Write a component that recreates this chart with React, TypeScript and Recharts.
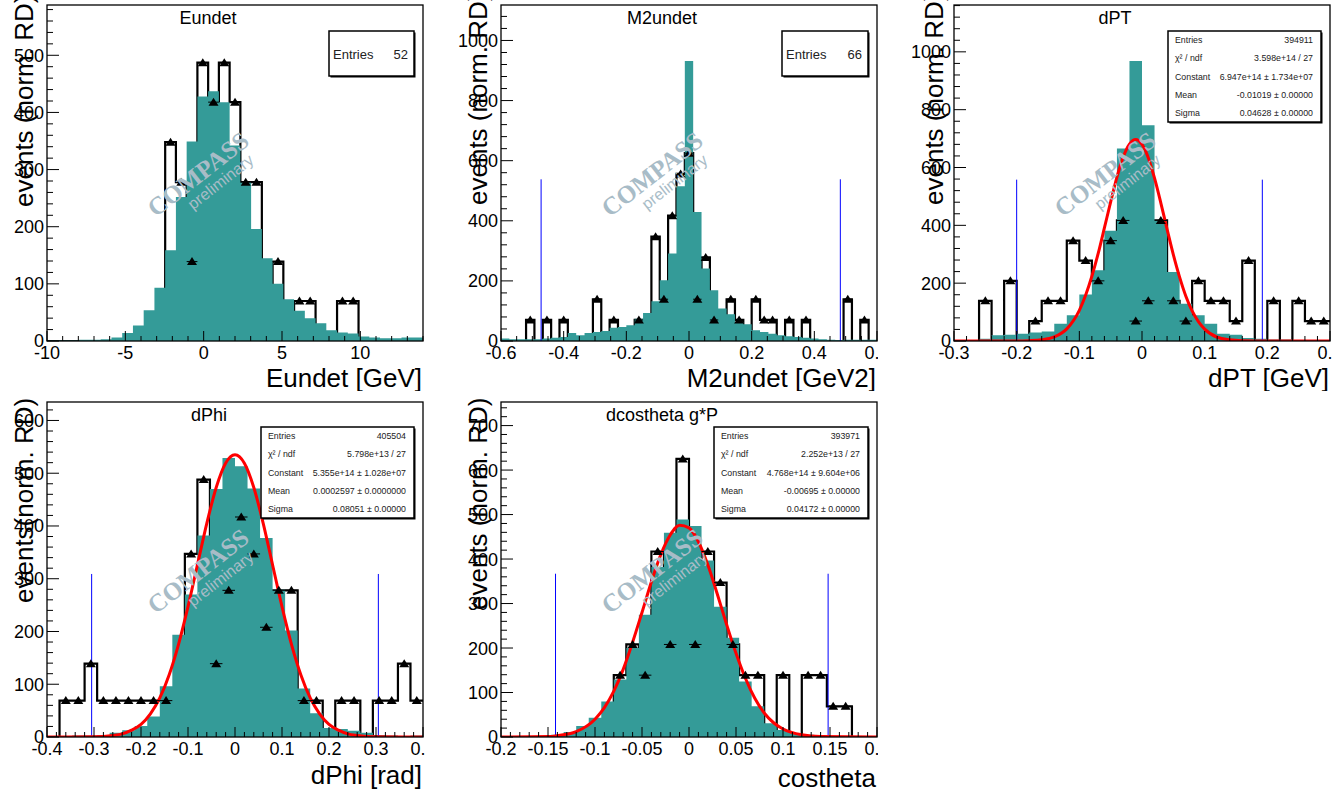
import React from 'react';
import { ComposedChart, Area, Line, Scatter, XAxis, YAxis, ReferenceLine } from 'recharts';

const TEAL = '#349b98';
const SANS = '"Liberation Sans", Arial, Helvetica, sans-serif';
const SERIF = '"Liberation Serif", "Times New Roman", serif';

// Eundet: 35 bins from -10 to 14 GeV
const eundetMc = [1, 1, 1, 2, 2, 3, 6, 14, 27, 54, 93, 159, 252, 349, 428, 437, 418, 342, 278, 196, 145, 100, 73, 53, 40, 31, 19, 15, 13, 8, 6, 5, 5, 6, 6];
const eundetRd = [0, 0, 0, 0, 0, 0, 0, 0, 0, 0, 0, 348, 278, 139, 487, 418, 487, 418, 278, 278, 0, 139, 0, 70, 70, 0, 0, 70, 70, 0, 0, 0, 0, 0, 0];

// M2undet: 45 bins from -0.6 to 0.6 GeV2
const m2Mc = [8, 6, 6, 6, 6, 8, 11, 13, 27, 19, 27, 30, 33, 44, 47, 52, 74, 93, 132, 202, 291, 515, 932, 429, 241, 169, 108, 89, 63, 56, 36, 30, 24, 19, 16, 13, 11, 8, 6, 4, 3, 4, 4, 4, 4];
const m2Rd = [0, 0, 0, 70, 0, 70, 0, 70, 0, 0, 0, 139, 0, 70, 0, 0, 70, 0, 347, 139, 417, 556, 625, 139, 278, 70, 0, 139, 70, 0, 139, 70, 70, 0, 70, 0, 70, 0, 0, 0, 0, 139, 0, 70, 0];
const m2Cuts = [-0.472, 0.483];

// dPT: 30 bins from -0.3 to 0.3 GeV
const dptMc = [2, 2, 8, 20, 22, 25, 29, 33, 60, 89, 161, 245, 381, 666, 968, 746, 418, 239, 129, 89, 60, 25, 22, 10, 8, 5, 5, 3, 3, 2];
const dptRd = [0, 0, 139, 0, 208, 0, 69, 139, 139, 347, 278, 208, 347, 417, 69, 139, 417, 139, 69, 208, 139, 139, 69, 278, 0, 139, 0, 139, 69, 69];
const dptFitX = [-0.3, -0.2, -0.18, -0.16, -0.14, -0.12, -0.1, -0.09, -0.08, -0.07, -0.06, -0.05, -0.04, -0.03, -0.02, -0.01, 0, 0.01, 0.02, 0.03, 0.04, 0.05, 0.06, 0.07, 0.08, 0.09, 0.1, 0.12, 0.14, 0.16, 0.2, 0.3];
const dptFitY = [0, 0, 1, 4, 14, 42, 106, 158, 224, 302, 391, 481, 567, 636, 681, 697, 680, 634, 563, 478, 387, 299, 221, 155, 104, 67, 41, 13, 4, 1, 0, 0];
const dptCuts = [-0.2, 0.192];

// dPhi: 30 bins from -0.4 to 0.4 rad
const dphiMc = [1, 1, 3, 3, 4, 8, 13, 21, 39, 96, 194, 270, 382, 470, 529, 513, 471, 377, 279, 202, 92, 45, 17, 15, 12, 8, 4, 3, 2, 3];
const dphiRd = [0, 69, 69, 139, 69, 69, 69, 69, 69, 69, 0, 347, 488, 139, 278, 417, 347, 208, 278, 278, 69, 69, 0, 69, 69, 0, 69, 69, 139, 69];
const dphiFitX = [-0.4, -0.3, -0.26, -0.24, -0.22, -0.2, -0.18, -0.16, -0.14, -0.12, -0.1, -0.08, -0.06, -0.04, -0.02, 0, 0.02, 0.04, 0.06, 0.08, 0.1, 0.12, 0.14, 0.16, 0.18, 0.2, 0.22, 0.24, 0.26, 0.3, 0.4];
const dphiFitY = [0, 0.5, 3, 6, 13, 24, 44, 74, 118, 176, 247, 326, 405, 473, 519, 535, 519, 473, 405, 326, 247, 176, 118, 74, 44, 24, 13, 6, 3, 0.5, 0];
const dphiCuts = [-0.305, 0.305];

// dcostheta: 30 bins from -0.2 to 0.2
const dcosMc = [1, 1, 2, 2, 5, 11, 25, 43, 80, 129, 200, 275, 382, 459, 489, 474, 397, 293, 223, 125, 69, 31, 16, 9, 5, 4, 2, 1, 1, 1];
const dcosRd = [0, 0, 0, 0, 0, 0, 0, 0, 0, 139, 208, 139, 417, 208, 625, 208, 417, 347, 208, 139, 139, 0, 139, 0, 139, 139, 69, 69, 0, 0];
const dcosFitX = [-0.2, -0.15, -0.14, -0.12, -0.1, -0.09, -0.08, -0.07, -0.06, -0.05, -0.04, -0.03, -0.02, -0.01, 0, 0.01, 0.02, 0.03, 0.04, 0.05, 0.06, 0.07, 0.08, 0.09, 0.1, 0.12, 0.14, 0.2];
const dcosFitY = [0, 1, 3, 12, 40, 66, 103, 152, 213, 280, 349, 410, 454, 476, 470, 439, 387, 322, 253, 188, 132, 87, 54, 32, 18, 5, 1, 0];
const dcosCuts = [-0.142, 0.148];

const dptStats: [string, string][] = [
  ['Entries', '394911'],
  ['χ² / ndf', '3.598e+14 / 27'],
  ['Constant', '6.947e+14 ± 1.734e+07'],
  ['Mean', '-0.01019 ± 0.00000'],
  ['Sigma', '0.04628 ± 0.00000'],
];
const dphiStats: [string, string][] = [
  ['Entries', '405504'],
  ['χ² / ndf', '5.798e+13 / 27'],
  ['Constant', '5.355e+14 ± 1.028e+07'],
  ['Mean', '0.0002597 ± 0.0000000'],
  ['Sigma', '0.08051 ± 0.00000'],
];
const dcosStats: [string, string][] = [
  ['Entries', '393971'],
  ['χ² / ndf', '2.252e+13 / 27'],
  ['Constant', '4.768e+14 ± 9.604e+06'],
  ['Mean', '-0.00695 ± 0.00000'],
  ['Sigma', '0.04172 ± 0.00000'],
];

interface Box { x: number; y: number; w: number; h: number }
interface StatBox extends Box { lx: number; rx: number; rows: number[]; font: number }

interface PanelProps {
  pad: Box;
  frame: { l: number; r: number; t: number; b: number };
  xMin: number; xMax: number; yMax: number;
  xMajor: number; xMinor: number; yMajor: number; yMinor: number;
  mc: number[]; rd: number[];
  fitX?: number[]; fitY?: number[];
  cuts?: number[]; cutTop?: number;
  title: string; titleX: number;
  xTitle: string; xTitleDy: number;
  yTitle: string; yTitleX: number; yTitleY: number;
  stats: [string, string][];
  box: StatBox;
}

const makeTicks = (min: number, max: number, step: number) => {
  const out: number[] = [];
  const a = Math.ceil(min / step - 1e-6);
  const b = Math.floor(max / step + 1e-6);
  for (let i = a; i <= b; i++) out.push(parseFloat((i * step).toFixed(6)));
  return out;
};

const isMajor = (v: number, major: number) => Math.abs(v / major - Math.round(v / major)) < 1e-6;
const fmt = (v: number) => parseFloat(v.toFixed(4)).toString();

// ROOT style: ticks point into the frame
const xTick = (major: number) => (p: any) => {
  const { x, y, payload } = p;
  const m = isMajor(payload.value, major);
  return (
    <g>
      <line x1={x} x2={x} y1={y} y2={y - (m ? 10 : 5)} stroke="#000" strokeWidth={1} />
      {m && (
        <text x={x} y={y + 18} textAnchor="middle" fontSize={18} fontFamily={SANS} fill="#000">
          {fmt(payload.value)}
        </text>
      )}
    </g>
  );
};

const yTick = (major: number) => (p: any) => {
  const { x, y, payload } = p;
  const m = isMajor(payload.value, major);
  return (
    <g>
      <line x1={x} x2={x + (m ? 12 : 6)} y1={y} y2={y} stroke="#000" strokeWidth={1} />
      {m && (
        <text x={x - 3} y={y} dy="0.36em" textAnchor="end" fontSize={18} fontFamily={SANS} fill="#000">
          {fmt(payload.value)}
        </text>
      )}
    </g>
  );
};

const triangle = (half: number) => (p: any) => {
  const { cx, cy } = p;
  return (
    <g>
      <line x1={cx - half} x2={cx + half} y1={cy} y2={cy} stroke="#000" strokeWidth={1} />
      <path d={`M${cx},${cy - 4.5} L${cx + 5},${cy + 3.5} L${cx - 5},${cy + 3.5} Z`} fill="#000" />
    </g>
  );
};

function Panel(props: PanelProps) {
  const { pad, frame: f, xMin, xMax, yMax, mc, rd } = props;
  const n = mc.length;
  const w = (xMax - xMin) / n;
  const hist = mc.map((v, i) => ({ x: xMin + i * w, mc: v, rd: rd[i] }));
  hist.push({ x: xMax, mc: mc[n - 1], rd: rd[n - 1] });
  const points = rd
    .map((v, i) => ({ x: xMin + (i + 0.5) * w, y: v }))
    .filter((d) => d.y > 0);
  const fit = props.fitX ? props.fitX.map((x, i) => ({ x, y: props.fitY![i] })) : null;
  const halfPx = ((f.r - f.l) / n) / 2;
  const b = props.box;

  return (
    <div style={{ position: 'absolute', left: pad.x, top: pad.y, width: pad.w, height: pad.h, overflow: 'hidden' }}>
      <ComposedChart
        width={pad.w}
        height={pad.h}
        data={hist}
        margin={{ left: f.l - pad.x - 1, right: pad.x + pad.w - f.r, top: f.t - pad.y, bottom: pad.y + pad.h - f.b - 1 }}
      >
        <XAxis
          type="number"
          dataKey="x"
          domain={[xMin, xMax]}
          allowDataOverflow
          ticks={makeTicks(xMin, xMax, props.xMinor)}
          interval={0}
          height={1}
          tickLine={false}
          tickSize={0}
          tickMargin={0}
          axisLine={false}
          tick={xTick(props.xMajor)}
        />
        <YAxis
          type="number"
          domain={[0, yMax]}
          allowDataOverflow
          ticks={makeTicks(0, yMax, props.yMinor)}
          interval={0}
          width={1}
          tickLine={false}
          tickSize={0}
          tickMargin={0}
          axisLine={false}
          tick={yTick(props.yMajor)}
        />
        <Area type="stepAfter" dataKey="rd" stroke="#000" strokeWidth={2.2} fill="none" dot={false} activeDot={false} isAnimationActive={false} />
        <Area type="stepAfter" dataKey="mc" stroke="none" fill={TEAL} fillOpacity={1} dot={false} activeDot={false} isAnimationActive={false} />
        {props.cuts &&
          props.cuts.map((c) => (
            <ReferenceLine key={c} segment={[{ x: c, y: 0 }, { x: c, y: props.cutTop! }]} stroke="#0000ff" strokeWidth={1} />
          ))}
        {fit && (
          <Line data={fit} type="monotone" dataKey="y" stroke="#ff0000" strokeWidth={3} dot={false} activeDot={false} isAnimationActive={false} />
        )}
        <Scatter data={points} dataKey="y" shape={triangle(halfPx)} isAnimationActive={false} />
      </ComposedChart>
      <svg width={pad.w} height={pad.h} style={{ position: 'absolute', left: 0, top: 0, pointerEvents: 'none' }}>
        <g transform={`translate(${-pad.x},${-pad.y})`}>
          <g transform={`translate(${f.l + 151},${f.t + 169}) rotate(-38)`} fill="#a8bcc7">
            <text x={0} y={0} textAnchor="middle" dominantBaseline="central" fontFamily={SERIF} fontWeight="bold" fontSize={25}>
              COMPASS
            </text>
            <text x={13} y={20} textAnchor="middle" dominantBaseline="central" fontFamily={SANS} fontSize={16}>
              preliminary
            </text>
          </g>
          <rect x={f.l} y={f.t} width={f.r - f.l} height={f.b - f.t} fill="none" stroke="#000" strokeWidth={1.3} />
          <text x={props.titleX} y={f.t + 19} textAnchor="middle" fontSize={18} fontFamily={SANS} fill="#000">
            {props.title}
          </text>
          <text
            transform={`translate(${props.yTitleX},${props.yTitleY}) rotate(-90)`}
            fontSize={26}
            fontFamily={SANS}
            fill="#000"
          >
            {props.yTitle}
          </text>
          <text x={f.r - 1} y={f.b + props.xTitleDy} textAnchor="end" fontSize={26} fontFamily={SANS} fill="#000">
            {props.xTitle}
          </text>
          <rect x={b.x + 1.5} y={b.y + 1.5} width={b.w} height={b.h} fill="#000" />
          <rect x={b.x} y={b.y} width={b.w} height={b.h} fill="#fff" stroke="#000" strokeWidth={1.5} />
          {props.stats.map(([label, value], i) => (
            <g key={label}>
              <text x={b.lx} y={b.rows[i]} dy="0.35em" fontSize={b.font} fontFamily={SANS} fill="#222">
                {label}
              </text>
              <text x={b.rx} y={b.rows[i]} dy="0.35em" textAnchor="end" fontSize={b.font} fontFamily={SANS} fill="#222">
                {value}
              </text>
            </g>
          ))}
        </g>
      </svg>
    </div>
  );
}

const statRows = (top: number) => [top + 8.5, top + 27, top + 45.5, top + 64, top + 81.5];

export default function App() {
  return (
    <div style={{ position: 'absolute', left: 0, top: 0, width: 1343, height: 790, background: '#fff' }}>
      <Panel
        pad={{ x: 0, y: 0, w: 425, h: 391 }}
        frame={{ l: 47, r: 423, t: 5, b: 341 }}
        xMin={-10} xMax={14} yMax={588}
        xMajor={5} xMinor={1} yMajor={100} yMinor={20}
        mc={eundetMc} rd={eundetRd}
        title="Eundet" titleX={208}
        xTitle="Eundet [GeV]" xTitleDy={46}
        yTitle="events (norm. RD)" yTitleX={33} yTitleY={207}
        stats={[['Entries', '52']]}
        box={{ x: 329, y: 31, w: 85, h: 45, lx: 333, rx: 408, rows: [54], font: 13 }}
      />
      <Panel
        pad={{ x: 448, y: 0, w: 430, h: 391 }}
        frame={{ l: 501, r: 877, t: 5, b: 341 }}
        xMin={-0.6} xMax={0.6} yMax={1118}
        xMajor={0.2} xMinor={0.05} yMajor={200} yMinor={40}
        mc={m2Mc} rd={m2Rd}
        cuts={m2Cuts} cutTop={538}
        title="M2undet" titleX={662}
        xTitle="M2undet [GeV2]" xTitleDy={46}
        yTitle="events (norm. RD)" yTitleX={487} yTitleY={205}
        stats={[['Entries', '66']]}
        box={{ x: 782, y: 31, w: 86, h: 45, lx: 786, rx: 862, rows: [54], font: 13 }}
      />
      <Panel
        pad={{ x: 896, y: 0, w: 436, h: 391 }}
        frame={{ l: 954, r: 1330, t: 5, b: 341 }}
        xMin={-0.3} xMax={0.3} yMax={1162}
        xMajor={0.1} xMinor={0.02} yMajor={200} yMinor={40}
        mc={dptMc} rd={dptRd}
        fitX={dptFitX} fitY={dptFitY}
        cuts={dptCuts} cutTop={558}
        title="dPT" titleX={1115}
        xTitle="dPT [GeV]" xTitleDy={46}
        yTitle="events (norm. RD)" yTitleX={943} yTitleY={205}
        stats={dptStats}
        box={{ x: 1168, y: 31, w: 153, h: 91, lx: 1175, rx: 1313, rows: statRows(31), font: 8.8 }}
      />
      <Panel
        pad={{ x: 0, y: 396, w: 425, h: 394 }}
        frame={{ l: 47, r: 423, t: 402, b: 737 }}
        xMin={-0.4} xMax={0.4} yMax={635}
        xMajor={0.1} xMinor={0.02} yMajor={100} yMinor={20}
        mc={dphiMc} rd={dphiRd}
        fitX={dphiFitX} fitY={dphiFitY}
        cuts={dphiCuts} cutTop={309}
        title="dPhi" titleX={209}
        xTitle="dPhi [rad]" xTitleDy={47}
        yTitle="events(norm. RD)" yTitleX={33} yTitleY={603}
        stats={dphiStats}
        box={{ x: 261, y: 427, w: 153, h: 91, lx: 268, rx: 406, rows: statRows(427), font: 8.8 }}
      />
      <Panel
        pad={{ x: 448, y: 396, w: 430, h: 394 }}
        frame={{ l: 501, r: 877, t: 402, b: 737 }}
        xMin={-0.2} xMax={0.2} yMax={753}
        xMajor={0.05} xMinor={0.01} yMajor={100} yMinor={20}
        mc={dcosMc} rd={dcosRd}
        fitX={dcosFitX} fitY={dcosFitY}
        cuts={dcosCuts} cutTop={367}
        title="dcostheta g*P" titleX={662}
        xTitle="costheta" xTitleDy={50}
        yTitle="events (norm. RD)" yTitleX={487} yTitleY={610}
        stats={dcosStats}
        box={{ x: 714, y: 427, w: 154, h: 91, lx: 721, rx: 860, rows: statRows(427), font: 8.8 }}
      />
    </div>
  );
}
